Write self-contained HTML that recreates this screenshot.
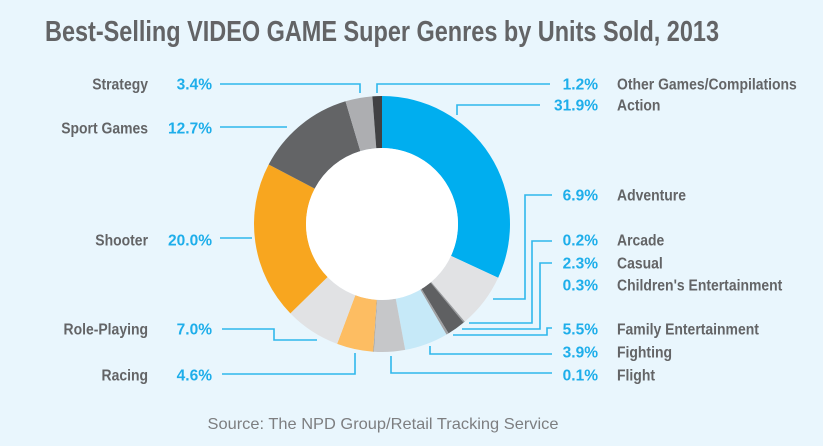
<!DOCTYPE html>
<html><head><meta charset="utf-8"><style>
html,body{margin:0;padding:0;background:#e9f6fd;}
svg{display:block;font-family:"Liberation Sans Narrow","Liberation Sans",sans-serif;}
.nm{fill:#636466;font-weight:bold;font-size:15.5px;}
.pc{fill:#1eaeea;font-weight:bold;font-size:15.5px;}
.ld{stroke:#2fb7ec;stroke-width:1.6;fill:none;}
</style></head><body>
<svg id="chart" width="823" height="446" viewBox="0 0 823 446">
<rect width="823" height="446" fill="#e9f6fd"/>
<text x="45" y="41" textLength="674" lengthAdjust="spacingAndGlyphs" style="font-size:29px;font-weight:bold;fill:#636466">Best-Selling VIDEO GAME Super Genres by Units Sold, 2013</text>
<g id="slices"></g>
<g id="leaders">
<polyline class="ld" points="220,84 360,84 360,93"/>
<polyline class="ld" points="550,84 377,84 377,93"/>
<polyline class="ld" points="540,105 457,105 457,115"/>
<polyline class="ld" points="220,127 287,127"/>
<polyline class="ld" points="220,238 252,238"/>
<polyline class="ld" points="552,195 525,195 525,299 493,299"/>
<polyline class="ld" points="552,241 532,241 532,323 469,323"/>
<polyline class="ld" points="552,263 540,263 540,329 462,329"/>
<polyline class="ld" points="552,328 547,328 547,335 453,335"/>
<polyline class="ld" points="552,354 430,354 430,346"/>
<polyline class="ld" points="552,373 391,373 391,356"/>
<polyline class="ld" points="222,329 274,329 274,340 317,340"/>
<polyline class="ld" points="222,374 355,374 355,353"/>
</g>
<g id="labels"></g>
<text x="383" y="429" text-anchor="middle" textLength="351" lengthAdjust="spacingAndGlyphs" style="font-family:'Liberation Sans',sans-serif;font-size:16px;fill:#7d7e80">Source: The NPD Group/Retail Tracking Service</text>
</svg>
<script>
const genres = ["Action","Adventure","Arcade","Casual","Children's Entertainment","Family Entertainment","Fighting","Flight","Racing","Role-Playing","Shooter","Sport Games","Strategy","Other Games/Compilations"];
const shares = [31.9,6.9,0.2,2.3,0.3,5.5,3.9,0.1,4.6,7.0,20.0,12.7,3.4,1.2];
const shareLabels = ["31.9%","6.9%","0.2%","2.3%","0.3%","5.5%","3.9%","0.1%","4.6%","7.0%","20.0%","12.7%","3.4%","1.2%"];
const colors = ["#00aeef","#e1e2e4","#9a9b9d","#5f6062","#a0a1a3","#c6e9f8","#c6c7c9","#9fa0a2","#fdbd62","#e1e2e4","#f8a61f","#636466","#adaeb1","#414143"];
const sides = ["r","r","r","r","r","r","r","r","l","l","l","l","l","r"];
const labelY = [105,195,240,263,285,329,352,375,375,329,240,128,84,84];
const NS="http://www.w3.org/2000/svg";
const cx=382,cy=224,R=128,r=76;
const total=shares.reduce((a,b)=>a+b,0);
function angle(v){return v/total*Math.PI*2;}
function pt(a,rad){return [cx+rad*Math.sin(a),cy-rad*Math.cos(a)];}
const sg=document.getElementById('slices');
let acc=0;
shares.forEach((v,i)=>{
  const a0=angle(acc),a1=angle(acc+v);acc+=v;
  const big=(a1-a0)>Math.PI?1:0;
  const p0=pt(a0,R),p1=pt(a1,R),q1=pt(a1,r),q0=pt(a0,r);
  const p=document.createElementNS(NS,'path');
  p.setAttribute('d',`M${p0[0]},${p0[1]}A${R},${R} 0 ${big} 1 ${p1[0]},${p1[1]}L${q1[0]},${q1[1]}A${r},${r} 0 ${big} 0 ${q0[0]},${q0[1]}Z`);
  p.setAttribute('fill',colors[i]);
  
  
  sg.appendChild(p);
});
const c=document.createElementNS(NS,'circle');
c.setAttribute('cx',cx);c.setAttribute('cy',cy);c.setAttribute('r',r);c.setAttribute('fill','#ffffff');


sg.appendChild(c);
const lg=document.getElementById('labels');
function txt(x,y,s,cls,anchor,name,sc){
  const t=document.createElementNS(NS,'text');
  t.setAttribute('x',x);t.setAttribute('y',y);t.setAttribute('class',cls);t.setAttribute('text-anchor',anchor);
  t.textContent=s;
  
  
  lg.appendChild(t);
  if(sc!==1){
    const w=t.getComputedTextLength();
    t.setAttribute('textLength',(w*sc).toFixed(1));
    t.setAttribute('lengthAdjust','spacingAndGlyphs');
  }
}
genres.forEach((g,i)=>{
  const y=labelY[i]+5.5;
  const key=g.toLowerCase().replace(/[^a-z]+/g,'-');
  if(sides[i]==="r"){
    txt(598,y,shareLabels[i],'pc','end','value-'+key,1);
    txt(617,y,g,'nm','start','name-'+key,0.9);
  }else{
    txt(212,y,shareLabels[i],'pc','end','value-'+key,1);
    txt(148,y,g,'nm','end','name-'+key,0.9);
  }
});
</script>
</body></html>
